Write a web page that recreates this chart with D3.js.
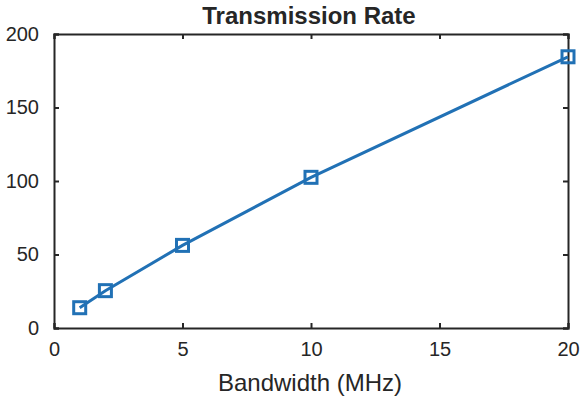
<!DOCTYPE html>
<html><head><meta charset="utf-8">
<script src="https://cdn.jsdelivr.net/npm/d3@7"></script>
<style>body{margin:0;background:#fff}svg{display:block}text{font-family:"Liberation Sans",Arial,sans-serif;fill:#262626}</style>
</head><body>
<script>
const bandwidth = [1, 2, 5, 10, 20];
const rate = [13.8, 25.4, 56.2, 102.5, 184.5];
const xTicks = [0, 5, 10, 15, 20];
const yTicks = [0, 50, 100, 150, 200];
const title = "Transmission Rate";
const xLabel = "Bandwidth (MHz)";

const W = 581, H = 399;
const m = {l: 54, r: 13, t: 34, b: 71};
const svg = d3.select("body").append("svg").attr("width", W).attr("height", H);
const x = d3.scaleLinear().domain([0, 20]).range([m.l, W - m.r]);
const y = d3.scaleLinear().domain([0, 200]).range([H - m.b, m.t]);
const tl = 5;

const gx = svg.append("g").attr("transform", `translate(0,${H - m.b})`)
  .call(d3.axisBottom(x).tickValues(xTicks).tickSize(-tl).tickPadding(14));
const gy = svg.append("g").attr("transform", `translate(${m.l},0)`)
  .call(d3.axisLeft(y).tickValues(yTicks).tickSize(-tl).tickPadding(15));
const gt = svg.append("g").attr("transform", `translate(0,${m.t})`)
  .call(d3.axisTop(x).tickValues(xTicks).tickSize(-tl).tickFormat(""));
const gr = svg.append("g").attr("transform", `translate(${W - m.r},0)`)
  .call(d3.axisRight(y).tickValues(yTicks).tickSize(-tl).tickFormat(""));
[gx, gy, gt, gr].forEach(g => {
  g.select(".domain").attr("stroke", "#262626").attr("stroke-width", 2);
  g.selectAll(".tick line").attr("stroke", "#262626").attr("stroke-width", 2);
  g.selectAll(".tick text").attr("font-size", 20).attr("fill", "#262626")
    .attr("font-family", '"Liberation Sans",Arial,sans-serif');
});

const pts = bandwidth.map((b, i) => [b, rate[i]]);
svg.append("path").datum(pts)
  .attr("fill", "none").attr("stroke", "#2171b5").attr("stroke-width", 3)
  .attr("d", d3.line().x(d => x(d[0])).y(d => y(d[1])));
const s = 12;
svg.selectAll("rect.mk").data(pts).enter().append("rect").attr("class", "mk")
  .attr("x", d => x(d[0]) - s / 2).attr("y", d => y(d[1]) - s / 2)
  .attr("width", s).attr("height", s)
  .attr("fill", "none").attr("stroke", "#2171b5").attr("stroke-width", 3);

svg.append("text").attr("x", 309).attr("y", 24)
  .attr("text-anchor", "middle").attr("font-weight", "bold").attr("font-size", 24).text(title);
svg.append("text").attr("x", 310).attr("y", 391)
  .attr("text-anchor", "middle").attr("font-size", 24).text(xLabel);
</script>
</body></html>
